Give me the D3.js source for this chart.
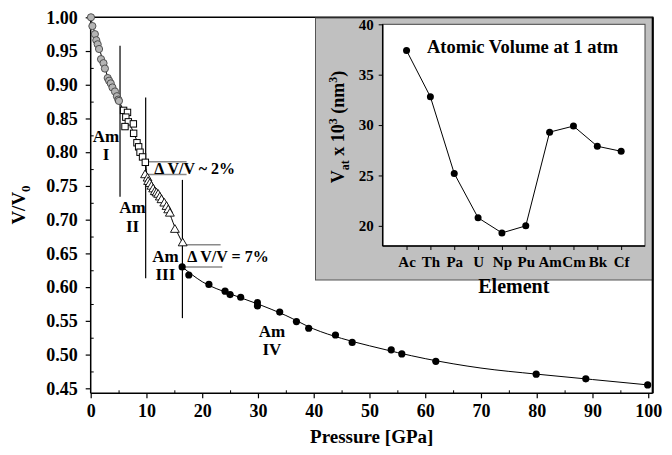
<!DOCTYPE html>
<html>
<head>
<meta charset="utf-8">
<style>
body { margin: 0; background: #fff; }
svg text { font-family: "Liberation Serif", "DejaVu Serif", serif; font-weight: bold; fill: #000; }
.tick text { font-size: 18px; }
.inset .tick text { font-size: 15px; }
.domain { stroke: #000; stroke-width: 1.5px; }
</style>
</head>
<body>
<svg width="672" height="455"></svg>
<script src="https://cdn.jsdelivr.net/npm/d3@7"></script>
<script>
// main plot: Am compression data (pressure in GPa, V/V0)
var phaseIP = [0.05, 0.3, 0.75, 1.0, 1.25, 1.5, 1.85, 2.3, 2.55, 3.05, 3.3, 3.6, 3.9, 4.35, 4.7, 4.95, 5.07];
var phaseIV_ = [1.000, 0.987, 0.975, 0.966, 0.960, 0.953, 0.938, 0.932, 0.924, 0.910, 0.906, 0.902, 0.896, 0.890, 0.883, 0.878, 0.876];
var phaseIIP = [5.9, 6.6, 6.3, 6.75, 6.15, 7.65, 7.7, 8.3, 8.6, 8.85, 9.3, 9.8];
var phaseIIV = [0.862, 0.859, 0.852, 0.845, 0.838, 0.842, 0.828, 0.814, 0.808, 0.800, 0.793, 0.785];
var phaseIIIP = [9.75, 10.2, 10.3, 10.6, 10.9, 11.2, 11.5, 11.8, 12.1, 12.4, 12.7, 13.2, 13.6, 13.9, 14.2, 15.1, 16.5];
var phaseIIIV = [0.766, 0.761, 0.756, 0.753, 0.749, 0.745, 0.741, 0.739, 0.737, 0.733, 0.729, 0.724, 0.719, 0.714, 0.709, 0.685, 0.665];
var phaseIVP = [16.4, 17.6, 21.2, 24.1, 25.0, 26.9, 29.9, 29.9, 33.9, 36.9, 39.1, 43.9, 46.9, 53.9, 55.8, 61.9, 79.9, 88.8, 99.9];
var phaseIVV = [0.630, 0.618, 0.604, 0.594, 0.589, 0.585, 0.577, 0.572, 0.563, 0.549, 0.539, 0.529, 0.518, 0.507, 0.501, 0.490, 0.471, 0.464, 0.455];

// fitted curves as drawn in the figure
var fitLowP = [0, 1, 2, 3, 4, 5.07, 6, 7, 8, 9, 9.8, 10.2, 11, 12, 13, 14, 15, 16.5];
var fitLowV = [1.0, 0.968, 0.941, 0.913, 0.894, 0.876, 0.860, 0.842, 0.823, 0.801, 0.785, 0.761, 0.748, 0.736, 0.725, 0.712, 0.691, 0.665];
var fitHighP = [16.4, 20, 25, 30, 35, 40, 45, 50, 55, 60, 70, 80, 90, 100];
var fitHighV = [0.630, 0.608, 0.590, 0.575, 0.558, 0.538, 0.524, 0.513, 0.503, 0.494, 0.480, 0.471, 0.463, 0.455];

// phase boundaries [P, Vtop, Vbottom]
var boundaries = [[5.26, 0.958, 0.734], [9.86, 0.881, 0.613], [16.45, 0.759, 0.554]];
// delta V/V guide lines [P0, P1, V]
var guides = [[9.5, 17.2, 0.786], [9.5, 17.2, 0.767], [16.0, 23.3, 0.663], [16.0, 23.6, 0.630]];
var guideText = [{p: 11.4, v: 0.776, t: "\u0394 V/V ~ 2%"}, {p: 17.3, v: 0.6455, t: "\u0394 V/V = 7%"}];
var phaseLabels = [{p: 2.74, v: 0.8156, t: "I"}, {p: 7.5, v: 0.7094, t: "II"}, {p: 13.4, v: 0.6377, t: "III"}, {p: 32.5, v: 0.526, t: "IV"}];

// inset: atomic volume at 1 atm
var elements = ["Ac", "Th", "Pa", "U", "Np", "Pu", "Am", "Cm", "Bk", "Cf"];
var vat = [37.4, 32.8, 25.2, 20.8, 19.3, 20.0, 29.3, 29.9, 27.9, 27.4];

var svg = d3.select("svg");
var x = d3.scaleLinear().domain([0, 100.8]).range([90.7, 652.7]);
var y = d3.scaleLinear().domain([0.4426, 1.0]).range([393.3, 17.3]);

function pts(P, V) { return P.map(function(p, i) { return [p, V[i]]; }); }

var g = svg.append("g");

// minor ticks
g.append("g").attr("transform", "translate(0,393.3)")
  .call(d3.axisBottom(x).tickValues(d3.range(5, 100, 10)).tickSize(-3).tickFormat(""))
  .call(function(a) { a.select(".domain").remove(); });
g.append("g").attr("transform", "translate(90.7,0)")
  .call(d3.axisLeft(y).tickValues(d3.range(0.475, 1.0, 0.05)).tickSize(-3).tickFormat(""))
  .call(function(a) { a.select(".domain").remove(); });

g.append("g").attr("transform", "translate(0,393.3)")
  .call(d3.axisBottom(x).tickValues(d3.range(0, 101, 10)).tickSize(5).tickPadding(6).tickFormat(d3.format("d")))
  .call(function(a) { a.select(".domain").attr("d", "M90.7,0H652.7"); a.selectAll("line").attr("stroke-width", 1.2); });
g.append("g").attr("transform", "translate(90.7,0)")
  .call(d3.axisLeft(y).tickValues(d3.range(0.45, 1.001, 0.05)).tickSize(5).tickPadding(8).tickFormat(d3.format(".2f")))
  .call(function(a) { a.select(".domain").attr("d", "M0,393.3V17.3"); a.selectAll("line").attr("stroke-width", 1.2); });

// frame top/right
g.append("path").attr("d", "M" + x(0) + "," + y(1) + "H" + x(100.8) + "V" + y(0.4426))
  .attr("fill", "none").attr("stroke", "#000").attr("stroke-width", 1.5);

// guides
g.selectAll("line.guide").data(guides).enter().append("line")
  .attr("x1", function(d) { return x(d[0]); }).attr("x2", function(d) { return x(d[1]); })
  .attr("y1", function(d) { return y(d[2]); }).attr("y2", function(d) { return y(d[2]); })
  .attr("stroke", "#8a8a8a").attr("stroke-width", 1.5);

g.selectAll("line.bound").data(boundaries).enter().append("line")
  .attr("x1", function(d) { return x(d[0]); }).attr("x2", function(d) { return x(d[0]); })
  .attr("y1", function(d) { return y(d[1]); }).attr("y2", function(d) { return y(d[2]); })
  .attr("stroke", "#000").attr("stroke-width", 1.2);

var line = d3.line().x(function(d) { return x(d[0]); }).y(function(d) { return y(d[1]); }).curve(d3.curveMonotoneX);
g.append("path").attr("d", line(pts(fitLowP, fitLowV))).attr("fill", "none").attr("stroke", "#000").attr("stroke-width", 1);
g.append("path").attr("d", line(pts(fitHighP, fitHighV))).attr("fill", "none").attr("stroke", "#000").attr("stroke-width", 1);

// markers
g.selectAll("circle.p1").data(pts(phaseIP, phaseIV_)).enter().append("circle")
  .attr("cx", function(d) { return x(d[0]); }).attr("cy", function(d) { return y(d[1]); })
  .attr("r", 3.6).attr("fill", "#b4b4b4").attr("stroke", "#444").attr("stroke-width", 0.9);
g.selectAll("rect.p2").data(pts(phaseIIP, phaseIIV)).enter().append("rect")
  .attr("x", function(d) { return x(d[0]) - 3.2; }).attr("y", function(d) { return y(d[1]) - 3.2; })
  .attr("width", 6.4).attr("height", 6.4).attr("fill", "#fff").attr("stroke", "#000").attr("stroke-width", 1);
var tri = d3.symbol().type(d3.symbolTriangle).size(34);
g.selectAll("path.p3").data(pts(phaseIIIP, phaseIIIV)).enter().append("path")
  .attr("transform", function(d) { return "translate(" + x(d[0]) + "," + y(d[1]) + ")"; })
  .attr("d", tri).attr("fill", "#fff").attr("stroke", "#000").attr("stroke-width", 0.9);
g.selectAll("circle.p4").data(pts(phaseIVP, phaseIVV)).enter().append("circle")
  .attr("cx", function(d) { return x(d[0]); }).attr("cy", function(d) { return y(d[1]); })
  .attr("r", 3.6).attr("fill", "#000");

// labels
var pl = g.selectAll("g.pl").data(phaseLabels).enter().append("g")
  .attr("transform", function(d) { return "translate(" + x(d.p) + "," + y(d.v) + ")"; });
pl.append("text").attr("text-anchor", "middle").attr("font-size", 17).text("Am");
pl.append("text").attr("text-anchor", "middle").attr("font-size", 17).attr("y", 18.3).text(function(d) { return d.t; });

g.selectAll("text.gt").data(guideText).enter().append("text")
  .attr("x", function(d) { return x(d.p); }).attr("y", function(d) { return y(d.v); })
  .attr("dy", "0.35em").attr("font-size", 16).text(function(d) { return d.t; });

svg.append("text").attr("x", 371.7).attr("y", 443).attr("text-anchor", "middle").attr("font-size", 19).text("Pressure [GPa]");
var yt = svg.append("text").attr("transform", "translate(25,205) rotate(-90)").attr("text-anchor", "middle").attr("font-size", 19);
yt.append("tspan").text("V/V");
yt.append("tspan").attr("font-size", 13).attr("dy", 5).text("0");

// inset
var ins = svg.append("g").attr("class", "inset");
ins.append("rect").attr("x", 315.5).attr("y", 18).attr("width", 337.5).attr("height", 262)
  .attr("fill", "#c0c0c0").attr("stroke", "#555").attr("stroke-width", 1);
ins.append("line").attr("x1", 652.7).attr("x2", 652.7).attr("y1", 17.3).attr("y2", 393.3).attr("stroke", "#000").attr("stroke-width", 2);

var xi = d3.scaleLinear().domain([0, 11]).range([382.7, 645]);
var yi = d3.scaleLinear().domain([18, 40]).range([246, 24.3]);
ins.append("rect").attr("x", 382.7).attr("y", 24.3).attr("width", 645 - 382.7).attr("height", 246 - 24.3)
  .attr("fill", "#fff").attr("stroke", "#444").attr("stroke-width", 1);

ins.append("g").attr("transform", "translate(0,246)")
  .call(d3.axisBottom(xi).tickValues(d3.range(1, 11)).tickSize(4).tickPadding(6).tickFormat(function(d) { return elements[d - 1]; }))
  .call(function(a) { a.select(".domain").attr("d", "M382.7,0H645"); });
ins.append("g").attr("transform", "translate(382.7,0)")
  .call(d3.axisLeft(yi).tickValues([20, 25, 30, 35, 40]).tickSize(4).tickPadding(5))
  .call(function(a) { a.select(".domain").attr("d", "M0,246V24.3"); });

var ipts = vat.map(function(v, i) { return [i + 1, v]; });
ins.append("path").attr("d", d3.line().x(function(d) { return xi(d[0]); }).y(function(d) { return yi(d[1]); })(ipts))
  .attr("fill", "none").attr("stroke", "#000").attr("stroke-width", 1);
ins.selectAll("circle").data(ipts).enter().append("circle")
  .attr("cx", function(d) { return xi(d[0]); }).attr("cy", function(d) { return yi(d[1]); })
  .attr("r", 3.5).attr("fill", "#000");

ins.append("text").attr("x", 427).attr("y", 53).attr("font-size", 18.5).text("Atomic Volume at 1 atm");
ins.append("text").attr("x", 513.8).attr("y", 293).attr("text-anchor", "middle").attr("font-size", 20).text("Element");
var it = ins.append("text").attr("transform", "translate(344,127) rotate(-90)").attr("text-anchor", "middle").attr("font-size", 18);
it.append("tspan").text("V");
it.append("tspan").attr("font-size", 12).attr("dy", 5).text("at");
it.append("tspan").attr("dy", -5).text(" x 10");
it.append("tspan").attr("font-size", 12).attr("dy", -7).text("3");
it.append("tspan").attr("dy", 7).text(" (nm");
it.append("tspan").attr("font-size", 12).attr("dy", -7).text("3");
it.append("tspan").attr("dy", 7).text(")");
</script>
</body>
</html>
